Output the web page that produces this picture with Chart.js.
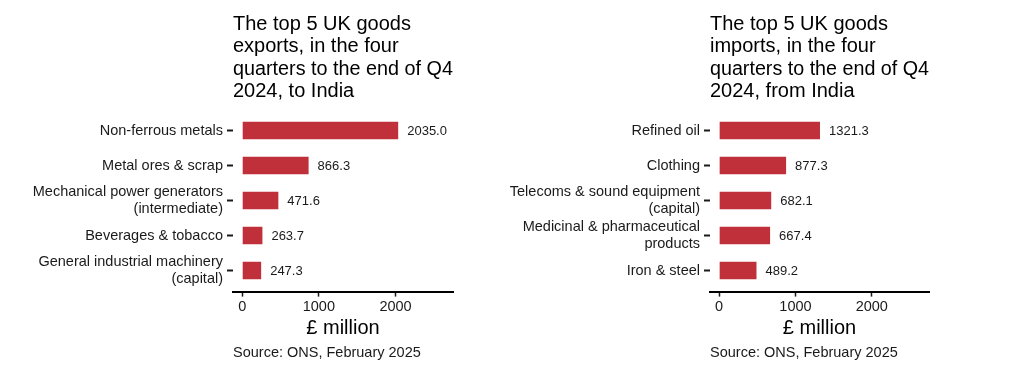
<!DOCTYPE html>
<html>
<head>
<meta charset="utf-8">
<script src="https://cdn.jsdelivr.net/npm/chart.js@4"></script>
<style>
  body { margin: 0; background: #fff; }
  .wrap { position: absolute; top: 0; height: 372px; }
</style>
</head>
<body>
<div class="wrap" style="left:0;width:512px"><canvas id="exports"></canvas></div>
<div class="wrap" style="left:472px;width:552px"><canvas id="imports"></canvas></div>
<script>
const exportCategories = ['Non-ferrous metals', 'Metal ores & scrap', 'Mechanical power generators\n(intermediate)', 'Beverages & tobacco', 'General industrial machinery\n(capital)'];
const exportValues = [2035.0, 866.3, 471.6, 263.7, 247.3];
const importCategories = ['Refined oil', 'Clothing', 'Telecoms & sound equipment\n(capital)', 'Medicinal & pharmaceutical\nproducts', 'Iron & steel'];
const importValues = [1321.3, 877.3, 682.1, 667.4, 489.2];
const xTicks = [0, 1000, 2000];
const exportTitle = ['The top 5 UK goods', 'exports, in the four', 'quarters to the end of Q4', '2024, to India'];
const importTitle = ['The top 5 UK goods', 'imports, in the four', 'quarters to the end of Q4', '2024, from India'];
const sourceText = 'Source: ONS, February 2025';
const axisTitle = '£ million';

const FONT = "'Liberation Sans', Arial, sans-serif";
const BAR = '#c0303a';
const INK = '#1a1a1a';

// writes the value just past the end of each bar
const valueLabels = {
  id: 'valueLabels',
  afterDatasetsDraw(chart) {
    const ctx = chart.ctx;
    const meta = chart.getDatasetMeta(0);
    ctx.save();
    ctx.font = '13px ' + FONT;
    ctx.fillStyle = INK;
    ctx.textAlign = 'left';
    ctx.textBaseline = 'middle';
    meta.data.forEach((bar, i) => {
      const v = chart.data.datasets[0].data[i].x;
      ctx.fillText(v.toFixed(1), bar.x + 9, bar.y + 1);
    });
    ctx.restore();
  }
};

function makeChart(id, cats, vals, title, axisLeft, padRight) {
  return new Chart(document.getElementById(id), {
    type: 'bar',
    data: {
      datasets: [{
        data: vals.map((v, i) => ({ x: v, y: i })),
        backgroundColor: BAR,
        categoryPercentage: 1,
        barPercentage: 0.5,
      }],
    },
    options: {
      indexAxis: 'y',
      responsive: true,
      maintainAspectRatio: false,
      animation: false,
      layout: { padding: { left: 0, right: padRight, top: 0, bottom: 0 } },
      scales: {
        y: {
          type: 'linear',
          reverse: true,
          offset: false,
          min: -0.6,
          max: 4.6,
          afterBuildTicks: (s) => { s.ticks = cats.map((_, i) => ({ value: i })); },
          afterFit: (s) => { s.width = axisLeft; },
          border: { display: false },
          grid: { offset: false, drawOnChartArea: false, drawTicks: true, tickLength: 6, tickWidth: 2, tickColor: INK },
          ticks: {
            autoSkip: false,
            padding: 4,
            color: INK,
            font: { family: FONT, size: 14.5, lineHeight: 1.15 },
            callback: (v) => (cats[v] || '').split('\n'),
          },
        },
        x: {
          type: 'linear',
          min: -120,
          max: 2750,
          afterBuildTicks: (s) => { s.ticks = xTicks.map(v => ({ value: v })); },
          afterFit: (s) => { s.height = 50; },
          border: { display: true, color: '#000', width: 2 },
          grid: { drawOnChartArea: false, drawTicks: true, tickLength: 5, tickWidth: 1.5, tickColor: INK },
          ticks: {
            padding: 2,
            color: INK,
            maxRotation: 0,
            font: { family: FONT, size: 14.5 },
            callback: (v) => String(v),
          },
          title: {
            display: true,
            text: axisTitle,
            color: '#000',
            font: { family: FONT, size: 20, lineHeight: 1.2 },
            padding: { top: 0, bottom: 1 },
          },
        },
      },
      plugins: {
        legend: { display: false },
        tooltip: { enabled: false },
        title: {
          display: true,
          text: title,
          align: 'start',
          fullSize: false,
          color: '#000',
          font: { family: FONT, size: 20, weight: 'normal', lineHeight: 1.12 },
          padding: { top: 13, bottom: 7 },
        },
        subtitle: {
          display: true,
          position: 'bottom',
          text: sourceText,
          align: 'start',
          fullSize: false,
          color: INK,
          font: { family: FONT, size: 14.5, lineHeight: 1.2 },
          padding: { top: 3, bottom: 10 },
        },
      },
    },
    plugins: [valueLabels],
  });
}

makeChart('exports', exportCategories, exportValues, exportTitle, 233, 59);
makeChart('imports', importCategories, importValues, importTitle, 238, 95);
</script>
</body>
</html>
